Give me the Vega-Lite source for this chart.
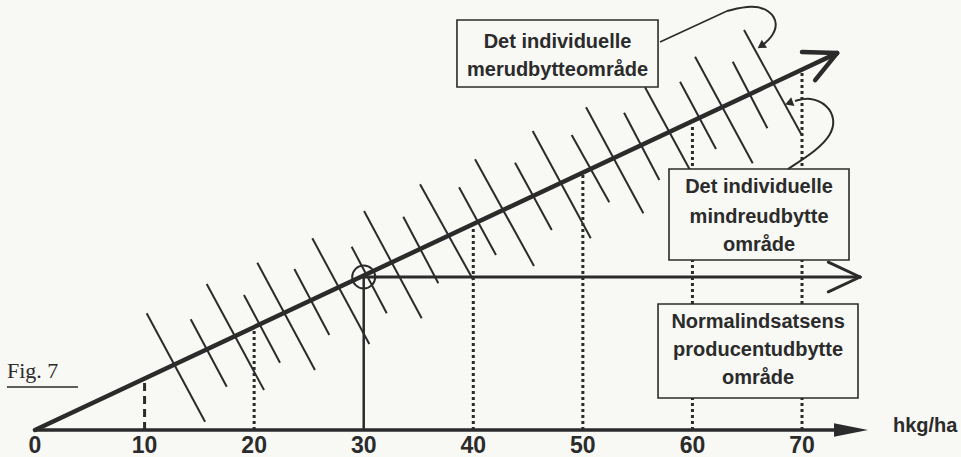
{
  "$schema": "https://vega.github.io/schema/vega-lite/v6.json",
  "width": 961,
  "height": 457,
  "autosize": {"type": "fit", "contains": "padding"},
  "padding": 0,
  "background": "#f8f8f5",
  "config": {"view": {"stroke": null}, "axis": {"disable": true}, "legend": {"disable": true}},
  "datasets": {
    "segs": [
      {"k": "h", "x": 10.19, "y": 22.88, "x2": 15.52, "y2": 1.63},
      {"k": "h", "x": 14.21, "y": 21.71, "x2": 17.50, "y2": 8.49},
      {"k": "h", "x": 15.67, "y": 28.63, "x2": 20.90, "y2": 7.84},
      {"k": "h", "x": 19.07, "y": 26.47, "x2": 22.36, "y2": 13.20},
      {"k": "h", "x": 20.29, "y": 32.80, "x2": 25.55, "y2": 11.76},
      {"k": "h", "x": 23.67, "y": 31.57, "x2": 26.86, "y2": 18.63},
      {"k": "h", "x": 25.31, "y": 37.59, "x2": 30.51, "y2": 16.86},
      {"k": "h", "x": 28.90, "y": 35.94, "x2": 32.10, "y2": 22.88},
      {"k": "h", "x": 30.03, "y": 42.94, "x2": 35.29, "y2": 21.90},
      {"k": "h", "x": 33.61, "y": 41.82, "x2": 36.81, "y2": 28.76},
      {"k": "h", "x": 35.14, "y": 48.18, "x2": 40.00, "y2": 29.41},
      {"k": "h", "x": 38.70, "y": 47.59, "x2": 42.07, "y2": 34.31},
      {"k": "h", "x": 40.16, "y": 53.08, "x2": 45.54, "y2": 32.16},
      {"k": "h", "x": 43.81, "y": 52.41, "x2": 47.16, "y2": 39.22},
      {"k": "h", "x": 45.42, "y": 58.63, "x2": 50.72, "y2": 37.59},
      {"k": "h", "x": 48.98, "y": 57.84, "x2": 52.41, "y2": 44.65},
      {"k": "h", "x": 50.29, "y": 63.27, "x2": 55.52, "y2": 42.49},
      {"k": "h", "x": 53.76, "y": 62.22, "x2": 56.98, "y2": 49.02},
      {"k": "h", "x": 55.67, "y": 67.20, "x2": 60.97, "y2": 46.27},
      {"k": "h", "x": 58.87, "y": 68.29, "x2": 62.15, "y2": 55.10},
      {"k": "h", "x": 60.24, "y": 73.20, "x2": 65.50, "y2": 52.29},
      {"k": "h", "x": 63.68, "y": 72.22, "x2": 66.84, "y2": 59.16},
      {"k": "h", "x": 64.71, "y": 78.43, "x2": 69.97, "y2": 57.84},
      {"k": "dot", "x": 20, "y": 0, "x2": 20, "y2": 20},
      {"k": "dot", "x": 40, "y": 0, "x2": 40, "y2": 40},
      {"k": "dot", "x": 50, "y": 0, "x2": 50, "y2": 50},
      {"k": "dot", "x": 60, "y": 0, "x2": 60, "y2": 60},
      {"k": "dot", "x": 70, "y": 0, "x2": 70, "y2": 70},
      {"k": "d10", "x": 10, "y": 0, "x2": 10, "y2": 10},
      {"k": "v30", "x": 30, "y": 0, "x2": 30, "y2": 30},
      {"k": "ax", "x": 0, "y": 0, "x2": 74.0, "y2": 0},
      {"k": "m", "x": 0, "y": 0, "x2": 73.2, "y2": 73.9},
      {"k": "m", "x": 73.2, "y": 73.9, "x2": 70.0, "y2": 74.1},
      {"k": "m", "x": 73.2, "y": 73.9, "x2": 71.2, "y2": 68.6},
      {"k": "hz", "x": 30, "y": 30, "x2": 75.3, "y2": 30},
      {"k": "hz", "x": 75.3, "y": 30, "x2": 72.4, "y2": 32.9},
      {"k": "hz", "x": 75.3, "y": 30, "x2": 72.4, "y2": 27.1},
      {"k": "c", "x": 57.04, "y": 76.08, "x2": 63.16, "y2": 82.16},
      {"k": "c", "x": -2.56, "y": 8.43, "x2": 3.92, "y2": 8.43}
    ],
    "boxes": [
      {"x": 38.51, "x2": 56.86, "y": 80.39, "y2": 67.25},
      {"x": 57.86, "x2": 74.29, "y": 51.18, "y2": 33.33},
      {"x": 56.86, "x2": 75.11, "y": 24.71, "y2": 6.27}
    ],
    "texts": [
      {"k": "box", "t": "Det individuelle", "x": 47.69, "y": 76.08},
      {"k": "box", "t": "merudbytteområde", "x": 47.69, "y": 70.59},
      {"k": "box", "t": "Det individuelle", "x": 66.08, "y": 47.65},
      {"k": "box", "t": "mindreudbytte", "x": 66.08, "y": 41.76},
      {"k": "box", "t": "område", "x": 66.08, "y": 36.27},
      {"k": "box", "t": "Normalindsatsens", "x": 65.99, "y": 21.18},
      {"k": "box", "t": "producentudbytte", "x": 65.99, "y": 15.69},
      {"k": "box", "t": "område", "x": 65.99, "y": 10.20},
      {"k": "tick", "t": "0", "x": 0, "y": -4.51},
      {"k": "tick", "t": "10", "x": 10, "y": -4.51},
      {"k": "tick", "t": "20", "x": 20, "y": -4.51},
      {"k": "tick", "t": "30", "x": 30, "y": -4.51},
      {"k": "tick", "t": "40", "x": 40, "y": -4.51},
      {"k": "tick", "t": "50", "x": 50, "y": -4.51},
      {"k": "tick", "t": "60", "x": 60, "y": -4.51},
      {"k": "tick", "t": "70", "x": 70, "y": -4.51},
      {"k": "unit", "t": "hkg/ha", "x": 78.3, "y": 0.78},
      {"k": "fig", "t": "Fig. 7", "x": -2.56, "y": 10.2}
    ],
    "curves": [
      {"c": 1, "o": 1, "x": 63.16, "y": 82.16},
      {"c": 1, "o": 2, "x": 65.44, "y": 83.33},
      {"c": 1, "o": 3, "x": 67.08, "y": 82.35},
      {"c": 1, "o": 4, "x": 67.81, "y": 79.61},
      {"c": 1, "o": 5, "x": 67.26, "y": 77.06},
      {"c": 1, "o": 6, "x": 66.53, "y": 75.69},
      {"c": 2, "o": 1, "x": 68.72, "y": 51.18},
      {"c": 2, "o": 2, "x": 71.37, "y": 54.90},
      {"c": 2, "o": 3, "x": 72.65, "y": 57.84},
      {"c": 2, "o": 4, "x": 73.01, "y": 60.78},
      {"c": 2, "o": 5, "x": 72.37, "y": 63.73},
      {"c": 2, "o": 6, "x": 70.73, "y": 65.29},
      {"c": 2, "o": 7, "x": 69.36, "y": 64.51}
    ],
    "heads": [
      {"x": 66.26, "y": 75.29, "a": 236},
      {"x": 68.81, "y": 64.12, "a": 250}
    ],
    "axhead": [{"x": 74.47, "y": 0}],
    "circle": [{"x": 30, "y": 30}]
  },
  "layer": [
    {
      "data": {"name": "segs"},
      "transform": [{"filter": "datum.k === 'h'"}],
      "mark": {"type": "rule", "color": "#2b2b2b", "strokeWidth": 2, "clip": true},
      "encoding": {
        "x": {"field": "x", "type": "quantitative", "scale": {"domain": [-3.194, 84.51], "nice": false, "zero": false}},
        "y": {"field": "y", "type": "quantitative", "scale": {"domain": [-5.294, 84.314], "nice": false, "zero": false}},
        "x2": {"field": "x2"}, "y2": {"field": "y2"}
      }
    },
    {
      "data": {"name": "segs"},
      "transform": [{"filter": "datum.k === 'dot'"}],
      "mark": {"type": "rule", "color": "#2b2b2b", "strokeWidth": 3, "strokeDash": [3, 3], "clip": true},
      "encoding": {
        "x": {"field": "x", "type": "quantitative", "scale": {"domain": [-3.194, 84.51], "nice": false, "zero": false}},
        "y": {"field": "y", "type": "quantitative", "scale": {"domain": [-5.294, 84.314], "nice": false, "zero": false}},
        "x2": {"field": "x2"}, "y2": {"field": "y2"}
      }
    },
    {
      "data": {"name": "segs"},
      "transform": [{"filter": "datum.k === 'd10'"}],
      "mark": {"type": "rule", "color": "#2b2b2b", "strokeWidth": 3, "strokeDash": [8, 5], "clip": true},
      "encoding": {
        "x": {"field": "x", "type": "quantitative", "scale": {"domain": [-3.194, 84.51], "nice": false, "zero": false}},
        "y": {"field": "y", "type": "quantitative", "scale": {"domain": [-5.294, 84.314], "nice": false, "zero": false}},
        "x2": {"field": "x2"}, "y2": {"field": "y2"}
      }
    },
    {
      "data": {"name": "segs"},
      "transform": [{"filter": "datum.k === 'v30'"}],
      "mark": {"type": "rule", "color": "#2b2b2b", "strokeWidth": 2.5, "clip": true},
      "encoding": {
        "x": {"field": "x", "type": "quantitative", "scale": {"domain": [-3.194, 84.51], "nice": false, "zero": false}},
        "y": {"field": "y", "type": "quantitative", "scale": {"domain": [-5.294, 84.314], "nice": false, "zero": false}},
        "x2": {"field": "x2"}, "y2": {"field": "y2"}
      }
    },
    {
      "data": {"name": "segs"},
      "transform": [{"filter": "datum.k === 'ax'"}],
      "mark": {"type": "rule", "color": "#2b2b2b", "strokeWidth": 3.5, "clip": true},
      "encoding": {
        "x": {"field": "x", "type": "quantitative", "scale": {"domain": [-3.194, 84.51], "nice": false, "zero": false}},
        "y": {"field": "y", "type": "quantitative", "scale": {"domain": [-5.294, 84.314], "nice": false, "zero": false}},
        "x2": {"field": "x2"}, "y2": {"field": "y2"}
      }
    },
    {
      "data": {"name": "segs"},
      "transform": [{"filter": "datum.k === 'm'"}],
      "mark": {"type": "rule", "color": "#2b2b2b", "strokeWidth": 4.5, "strokeCap": "round", "clip": true},
      "encoding": {
        "x": {"field": "x", "type": "quantitative", "scale": {"domain": [-3.194, 84.51], "nice": false, "zero": false}},
        "y": {"field": "y", "type": "quantitative", "scale": {"domain": [-5.294, 84.314], "nice": false, "zero": false}},
        "x2": {"field": "x2"}, "y2": {"field": "y2"}
      }
    },
    {
      "data": {"name": "segs"},
      "transform": [{"filter": "datum.k === 'hz'"}],
      "mark": {"type": "rule", "color": "#2b2b2b", "strokeWidth": 3, "strokeCap": "round", "clip": true},
      "encoding": {
        "x": {"field": "x", "type": "quantitative", "scale": {"domain": [-3.194, 84.51], "nice": false, "zero": false}},
        "y": {"field": "y", "type": "quantitative", "scale": {"domain": [-5.294, 84.314], "nice": false, "zero": false}},
        "x2": {"field": "x2"}, "y2": {"field": "y2"}
      }
    },
    {
      "data": {"name": "segs"},
      "transform": [{"filter": "datum.k === 'c'"}],
      "mark": {"type": "rule", "color": "#2b2b2b", "strokeWidth": 1.6, "clip": true},
      "encoding": {
        "x": {"field": "x", "type": "quantitative", "scale": {"domain": [-3.194, 84.51], "nice": false, "zero": false}},
        "y": {"field": "y", "type": "quantitative", "scale": {"domain": [-5.294, 84.314], "nice": false, "zero": false}},
        "x2": {"field": "x2"}, "y2": {"field": "y2"}
      }
    },
    {
      "data": {"name": "circle"},
      "mark": {"type": "point", "filled": false, "color": "#2b2b2b", "size": 530, "strokeWidth": 2, "opacity": 1, "clip": true},
      "encoding": {
        "x": {"field": "x", "type": "quantitative", "scale": {"domain": [-3.194, 84.51], "nice": false, "zero": false}},
        "y": {"field": "y", "type": "quantitative", "scale": {"domain": [-5.294, 84.314], "nice": false, "zero": false}}
      }
    },
    {
      "data": {"name": "boxes"},
      "mark": {"type": "rect", "fill": "#f8f8f5", "stroke": "#2b2b2b", "strokeWidth": 1.6, "clip": true},
      "encoding": {
        "x": {"field": "x", "type": "quantitative", "scale": {"domain": [-3.194, 84.51], "nice": false, "zero": false}},
        "y": {"field": "y", "type": "quantitative", "scale": {"domain": [-5.294, 84.314], "nice": false, "zero": false}},
        "x2": {"field": "x2"}, "y2": {"field": "y2"}
      }
    },
    {
      "data": {"name": "texts"},
      "transform": [{"filter": "datum.k === 'box'"}],
      "mark": {"type": "text", "font": "Liberation Sans", "fontWeight": "bold", "fontSize": 20, "color": "#2b2b2b", "align": "center", "baseline": "middle", "clip": true},
      "encoding": {
        "x": {"field": "x", "type": "quantitative", "scale": {"domain": [-3.194, 84.51], "nice": false, "zero": false}},
        "y": {"field": "y", "type": "quantitative", "scale": {"domain": [-5.294, 84.314], "nice": false, "zero": false}},
        "text": {"field": "t"}
      }
    },
    {
      "data": {"name": "texts"},
      "transform": [{"filter": "datum.k === 'tick'"}],
      "mark": {"type": "text", "font": "Liberation Sans", "fontWeight": "bold", "fontSize": 23, "color": "#2b2b2b", "align": "center", "baseline": "alphabetic", "clip": true},
      "encoding": {
        "x": {"field": "x", "type": "quantitative", "scale": {"domain": [-3.194, 84.51], "nice": false, "zero": false}},
        "y": {"field": "y", "type": "quantitative", "scale": {"domain": [-5.294, 84.314], "nice": false, "zero": false}},
        "text": {"field": "t"}
      }
    },
    {
      "data": {"name": "texts"},
      "transform": [{"filter": "datum.k === 'unit'"}],
      "mark": {"type": "text", "font": "Liberation Sans", "fontWeight": "bold", "fontSize": 20, "color": "#2b2b2b", "align": "left", "baseline": "middle", "clip": true},
      "encoding": {
        "x": {"field": "x", "type": "quantitative", "scale": {"domain": [-3.194, 84.51], "nice": false, "zero": false}},
        "y": {"field": "y", "type": "quantitative", "scale": {"domain": [-5.294, 84.314], "nice": false, "zero": false}},
        "text": {"field": "t"}
      }
    },
    {
      "data": {"name": "texts"},
      "transform": [{"filter": "datum.k === 'fig'"}],
      "mark": {"type": "text", "font": "Liberation Serif", "fontSize": 22, "color": "#2b2b2b", "align": "left", "baseline": "alphabetic", "clip": true},
      "encoding": {
        "x": {"field": "x", "type": "quantitative", "scale": {"domain": [-3.194, 84.51], "nice": false, "zero": false}},
        "y": {"field": "y", "type": "quantitative", "scale": {"domain": [-5.294, 84.314], "nice": false, "zero": false}},
        "text": {"field": "t"}
      }
    },
    {
      "data": {"name": "curves"},
      "mark": {"type": "line", "color": "#2b2b2b", "strokeWidth": 2, "interpolate": "basis", "clip": true},
      "encoding": {
        "x": {"field": "x", "type": "quantitative", "scale": {"domain": [-3.194, 84.51], "nice": false, "zero": false}},
        "y": {"field": "y", "type": "quantitative", "scale": {"domain": [-5.294, 84.314], "nice": false, "zero": false}},
        "detail": {"field": "c"},
        "order": {"field": "o", "type": "quantitative"}
      }
    },
    {
      "data": {"name": "heads"},
      "mark": {"type": "point", "shape": "triangle-up", "filled": true, "color": "#2b2b2b", "size": 90, "opacity": 1, "clip": true},
      "encoding": {
        "x": {"field": "x", "type": "quantitative", "scale": {"domain": [-3.194, 84.51], "nice": false, "zero": false}},
        "y": {"field": "y", "type": "quantitative", "scale": {"domain": [-5.294, 84.314], "nice": false, "zero": false}},
        "angle": {"field": "a", "type": "quantitative", "scale": null}
      }
    },
    {
      "data": {"name": "axhead"},
      "mark": {"type": "point", "shape": "M-1,-0.4L1,0L-1,0.4Z", "filled": true, "color": "#2b2b2b", "size": 1156, "opacity": 1, "clip": true},
      "encoding": {
        "x": {"field": "x", "type": "quantitative", "scale": {"domain": [-3.194, 84.51], "nice": false, "zero": false}},
        "y": {"field": "y", "type": "quantitative", "scale": {"domain": [-5.294, 84.314], "nice": false, "zero": false}}
      }
    }
  ]
}
